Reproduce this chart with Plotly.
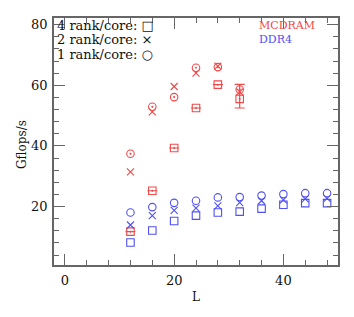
import plotly.graph_objects as go

L_mc = [12, 16, 20, 24, 28, 32]
mc_4 = [11.7, 25.2, 39.3, 52.5, 60.2, 55.5]
mc_2 = [31.4, 51.2, 59.6, 64.0, 66.3, 57.8]
mc_1 = [37.4, 52.9, 56.1, 65.8, 66.0, 58.6]
mc_err_plus = [0, 0, 0, 0, 0, 4.8]
mc_err_minus = [0, 0, 0, 0, 0, 3.0]

L_dd = [12, 16, 20, 24, 28, 32, 36, 40, 44, 48]
dd_4 = [8.1, 12.1, 15.2, 17.0, 18.0, 18.3, 19.3, 20.6, 21.1, 21.1]
dd_2 = [13.9, 17.0, 18.7, 19.5, 20.2, 21.3, 21.9, 22.2, 22.5, 22.7]
dd_1 = [18.0, 19.8, 21.2, 21.9, 23.0, 23.1, 23.6, 24.1, 24.4, 24.4]

RED = "#f04848"
BLUE = "#5050f8"
FONT = "DejaVu Serif"

fig = go.Figure()

def add(x, y, sym, color, size, err=None):
    kw = {}
    if err is not None:
        kw["error_y"] = dict(type="data", symmetric=False, array=err[0], arrayminus=err[1],
                             color=color, thickness=1.2, width=5)
    fig.add_trace(go.Scatter(x=x, y=y, mode="markers",
                             marker=dict(symbol=sym, size=size, color=color,
                                         line=dict(color=color, width=1.1)),
                             showlegend=False, **kw))

add(L_mc, mc_4, "square-open-dot", RED, 7.5, (mc_err_plus, mc_err_minus))
add(L_mc, mc_2, "x-thin-open", RED, 7)
add(L_mc, mc_1, "circle-open-dot", RED, 7.5)
add(L_dd, dd_4, "square-open", BLUE, 7.5)
add(L_dd, dd_2, "x-thin-open", BLUE, 7)
add(L_dd, dd_1, "circle-open", BLUE, 7.5)

axis_common = dict(showgrid=False, zeroline=False, showline=True, linecolor="#666666",
                   linewidth=1.5, mirror="allticks", ticks="inside", ticklen=11,
                   tickwidth=1.3, tickcolor="#666666", automargin=False,
                   tickfont=dict(family=FONT, size=13, color="#111111"),
                   minor=dict(ticks="inside", ticklen=5, tickwidth=1, tickcolor="#666666", dtick=4))

fig.update_xaxes(range=[-2, 50], tickvals=[0, 20, 40], ticklabelstandoff=3,
                 title=dict(text="L", font=dict(family=FONT, size=12, color="#111111"), standoff=5),
                 **axis_common)
fig.update_yaxes(range=[0.7, 82.2], tickvals=[20, 40, 60, 80], ticklabelstandoff=2,
                 **axis_common)

# page body has an 8px margin; plot area spans x 54..338, y 18..265 in the window
W, H = 338, 301
ML, MR, MT, MB = 46, 8, 10, 44
PW = W - ML - MR
PH = H - MT - MB
legend_lines = ["4 rank/core: \u25a1", "2 rank/core: \u00d7", "1 rank/core: \u25cb"]
anns = []
for i, t in enumerate(legend_lines):
    anns.append(dict(x=0.005, y=(PH - (7 + 14.7 * i)) / PH, xref="x domain", yref="y domain",
                     text=t, showarrow=False, xanchor="left", yanchor="middle",
                     font=dict(family=FONT, size=13, color="#111111")))
anns.append(dict(x=0.715, y=(PH - 7) / PH, xref="x domain", yref="y domain", text="MCDRAM",
                 showarrow=False, xanchor="left", yanchor="middle",
                 font=dict(family=FONT, size=11, color=RED)))
anns.append(dict(x=0.715, y=(PH - 22) / PH, xref="x domain", yref="y domain", text="DDR4",
                 showarrow=False, xanchor="left", yanchor="middle",
                 font=dict(family=FONT, size=11, color=BLUE)))
anns.append(dict(x=(22 - 54) / PW, y=(265 - 145) / PH, xref="x domain", yref="y domain",
                 text="Gflops/s", textangle=-90, showarrow=False, xanchor="center", yanchor="middle",
                 font=dict(family=FONT, size=12, color="#111111")))
fig.layout.annotations = anns

fig.update_layout(width=W, height=H, margin=dict(l=ML, r=MR, t=MT, b=MB),
                  plot_bgcolor="white", paper_bgcolor="white")

fig.write_html("out.html")
